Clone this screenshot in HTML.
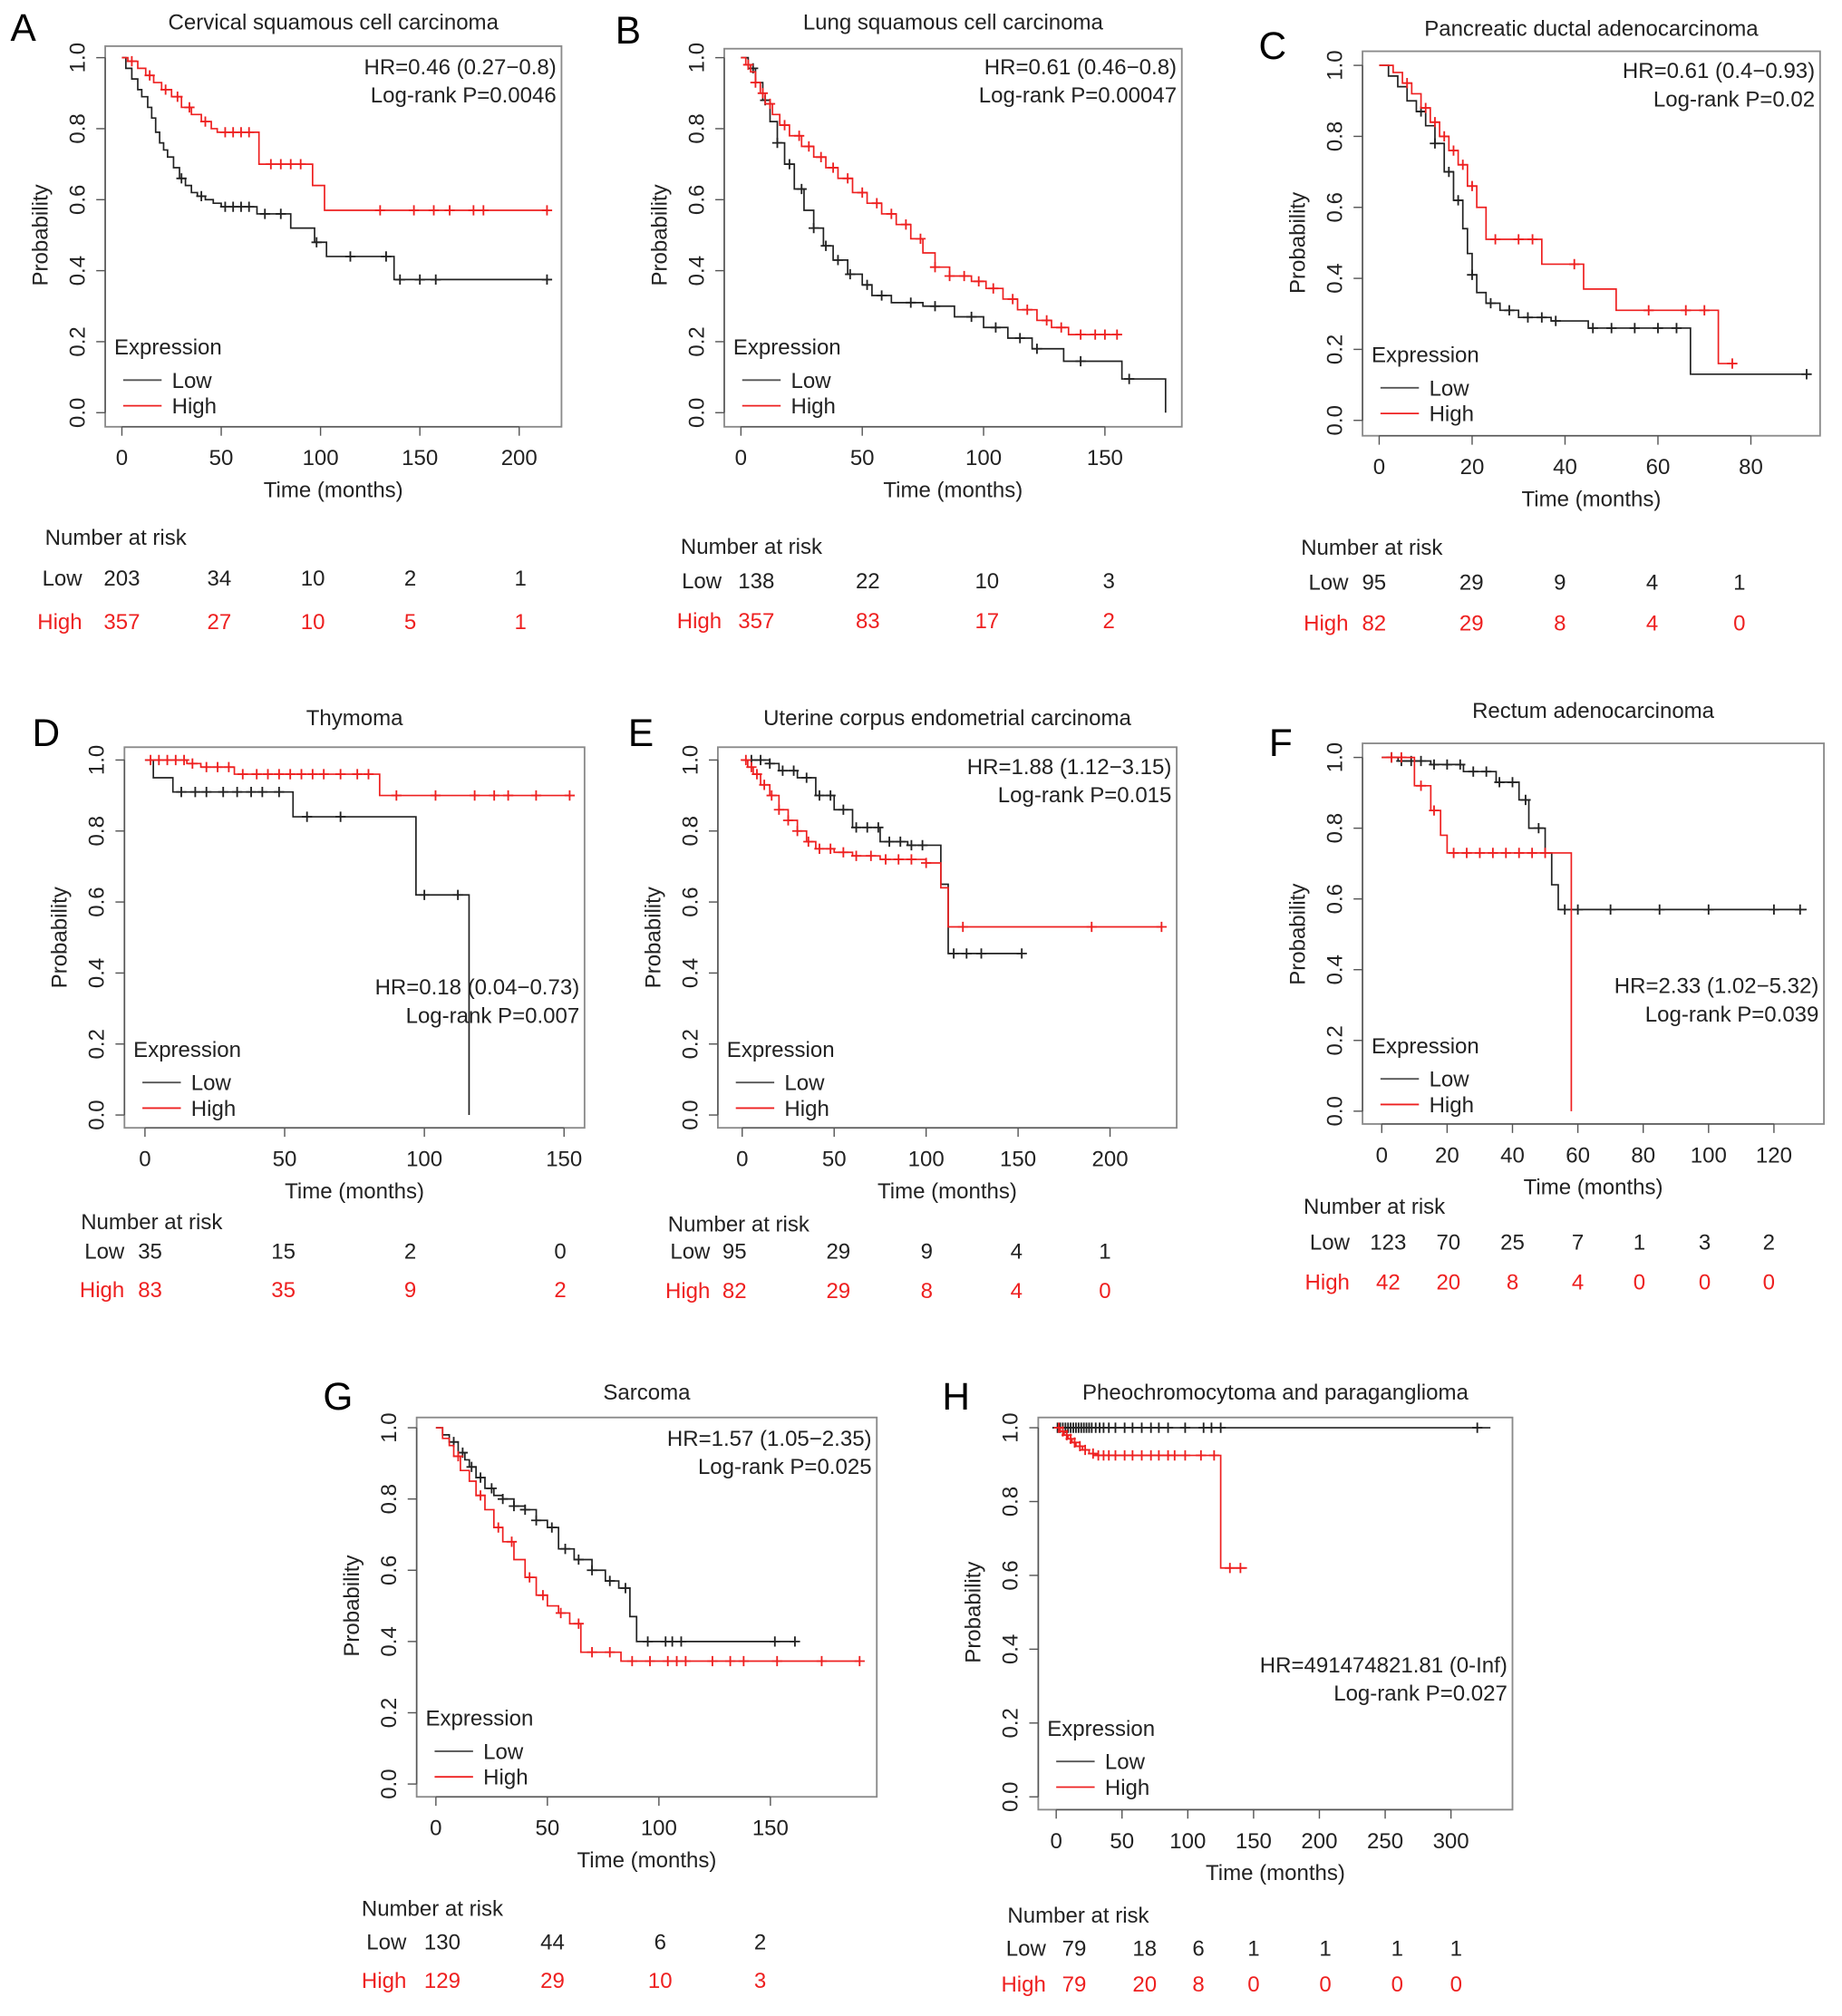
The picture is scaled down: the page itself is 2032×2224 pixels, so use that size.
<!DOCTYPE html>
<html><head><meta charset="utf-8"><style>
html,body{margin:0;padding:0;background:#fff;}
svg{display:block;font-family:"Liberation Sans",sans-serif;}
</style></head><body>
<svg id="fig" width="2032" height="2224" viewBox="0 0 1437 1573" xmlns="http://www.w3.org/2000/svg"></svg>
<script>
// ===== Data (months, survival probability) =====
const aLowT=[2,5,8,10,13,15,17,19,21,23,26,29,32,35,38,42,46,50,68,85,97,103,137];
const aLowS=[.97,.94,.91,.89,.86,.83,.79,.76,.74,.72,.69,.66,.64,.62,.61,.60,.59,.58,.56,.52,.48,.44,.375];
const aLowC=[30,40,52,56,60,64,72,80,98,115,133,140,150,158,214];
const aHighT=[3,8,12,16,20,25,30,35,40,45,48,69,96,102];
const aHighS=[.99,.97,.95,.93,.91,.89,.86,.84,.82,.80,.79,.70,.64,.57];
const aHighC=[5,14,22,28,34,42,52,56,60,64,75,80,85,90,130,147,157,165,177,182,214];
const aEnd=[214,214];

const bLowT=[3,6,9,12,15,18,22,26,30,34,38,44,50,54,62,75,88,100,110,120,133,157,175];
const bLowS=[.97,.93,.88,.82,.76,.70,.63,.57,.52,.47,.43,.39,.36,.33,.31,.30,.27,.24,.21,.18,.145,.095,0];
const bLowC=[5,10,15,20,25,30,35,40,45,52,58,70,80,95,105,115,122,140,160];
const bHighT=[2,4,6,8,10,13,16,20,25,30,35,40,46,52,58,64,70,75,80,86,95,101,108,114,122,128,135];
const bHighS=[.98,.96,.93,.90,.87,.84,.81,.78,.75,.72,.69,.66,.62,.59,.56,.53,.49,.45,.41,.385,.37,.35,.32,.29,.26,.24,.22];
const bHighC=[3,6,9,12,18,24,28,33,38,44,50,56,62,68,74,80,86,92,98,104,112,118,126,132,140,146,150,155];
const bEnd=[175,155];

const cLowT=[2,4,6,8,10,12,14,16,18,19,20,21,23,26,30,37,45,67];
const cLowS=[.97,.94,.90,.87,.83,.78,.70,.62,.54,.47,.41,.36,.33,.31,.29,.28,.26,.13];
const cLowC=[9,12,15,17,20,24,28,32,35,38,46,50,55,60,64,92];
const cHighT=[3,5,7,9,11,13,15,17,19,21,23,35,44,51,73];
const cHighS=[.98,.95,.92,.88,.84,.80,.76,.72,.66,.60,.51,.44,.37,.31,.16];
const cHighC=[6,10,12,14,16,18,20,25,30,33,42,58,66,70,76];
const cEnd=[92,76];

const dLowT=[3,10,53,97,116];
const dLowS=[.95,.91,.84,.62,0];
const dLowC=[13,18,22,28,33,38,42,48,58,70,100,112];
const dHighT=[15,20,32,84];
const dHighS=[.99,.98,.96,.90];
const dHighC=[2,5,8,11,14,17,22,26,30,35,40,44,48,52,56,60,64,70,76,80,90,104,118,125,130,140,152];
const dEnd=[116,152];

const eLowT=[15,20,30,40,50,60,75,90,108,112];
const eLowS=[.99,.97,.95,.90,.86,.81,.77,.76,.65,.455];
const eLowC=[5,10,15,22,28,35,42,48,55,62,68,74,80,86,92,98,115,122,130,152];
const eHighT=[3,6,10,15,20,25,30,35,40,50,60,75,100,108,112];
const eHighS=[.98,.96,.93,.90,.86,.83,.80,.77,.75,.74,.73,.72,.71,.64,.53];
const eHighC=[2,5,8,12,16,20,25,30,36,42,48,55,62,70,78,85,92,100,120,190,228];
const eEnd=[152,228];

const fLowT=[5,15,25,35,42,45,50,52,54];
const fLowS=[.99,.98,.96,.93,.88,.80,.73,.64,.57];
const fLowC=[3,6,9,12,16,20,24,28,32,36,40,44,48,56,60,70,85,100,120,128];
const fHighT=[10,15,18,20,58];
const fHighS=[.92,.85,.78,.73,0];
const fHighC=[3,6,12,16,22,26,30,34,38,42,46,50];
const fEnd=[130,58];

const gLowT=[3,6,10,13,15,18,22,26,30,35,40,45,50,55,62,70,76,82,87,90];
const gLowS=[.98,.96,.93,.91,.89,.86,.83,.81,.80,.78,.77,.74,.72,.66,.63,.60,.57,.55,.47,.40];
const gLowC=[8,12,16,20,25,30,35,40,45,52,58,64,70,78,85,95,103,106,110,152,161];
const gHighT=[3,6,8,11,15,18,22,26,30,35,40,45,50,55,60,65,83];
const gHighS=[.97,.95,.92,.88,.85,.81,.77,.72,.68,.63,.58,.53,.50,.48,.45,.37,.345];
const gHighC=[10,20,28,34,42,48,56,64,70,78,88,96,104,108,112,124,132,138,153,173,190];
const gEnd=[161,190];

const hLowT=[];
const hLowS=[];
const hLowC=[1,3,5,7,9,11,13,15,17,19,21,23,25,27,30,33,36,40,45,52,58,65,72,78,85,98,112,118,125,320];
const hHighT=[3,6,9,12,15,20,25,30,125];
const hHighS=[.99,.98,.97,.96,.95,.94,.93,.925,.62];
const hHighC=[2,5,8,11,14,18,22,28,32,36,40,45,52,58,65,72,78,85,90,98,110,120,132,140];
const hEnd=[330,145];

// risk tables
const aRiskLow=["203","34","10","2","1"], aRiskHigh=["357","27","10","5","1"];
const bRiskLow=["138","22","10","3"], bRiskHigh=["357","83","17","2"];
const cRiskLow=["95","29","9","4","1"], cRiskHigh=["82","29","8","4","0"];
const dRiskLow=["35","15","2","0"], dRiskHigh=["83","35","9","2"];
const eRiskLow=["95","29","9","4","1"], eRiskHigh=["82","29","8","4","0"];
const fRiskLow=["123","70","25","7","1","3","2"], fRiskHigh=["42","20","8","4","0","0","0"];
const gRiskLow=["130","44","6","2"], gRiskHigh=["129","29","10","3"];
const hRiskLow=["79","18","6","1","1","1","1"], hRiskHigh=["79","20","8","0","0","0","0"];

const xTicksA=[0,50,100,150,200], xTicksB=[0,50,100,150], xTicksC=[0,20,40,60,80];
const xTicksD=[0,50,100,150], xTicksE=[0,50,100,150,200], xTicksF=[0,20,40,60,80,100,120];
const xTicksG=[0,50,100,150], xTicksH=[0,50,100,150,200,250,300];
const yTicks=[0,0.2,0.4,0.6,0.8,1.0];

const panels=[
 {id:'a',L:'A',title:'Cervical squamous cell carcinoma',box:[82,36,438,333],x0:95,xmax:200,x1:405,y1:45,y0:322,xt:xTicksA,lowT:aLowT,lowS:aLowS,lowC:aLowC,highT:aHighT,highS:aHighS,highC:aHighC,end:aEnd,hr:'HR=0.46 (0.27\u22120.8)',p:'Log-rank P=0.0046',hrY:58,letter:[8,32],titleY:23,
  risk:{hx:35,hy:425,ly:457,hy2:491,lab:64,xs:[95,171,244,320,406],low:aRiskLow,high:aRiskHigh}},
 {id:'b',L:'B',title:'Lung squamous cell carcinoma',box:[565,38,922,333],x0:578,xmax:150,x1:862,y1:45,y0:322,xt:xTicksB,lowT:bLowT,lowS:bLowS,lowC:bLowC,highT:bHighT,highS:bHighS,highC:bHighC,end:bEnd,hr:'HR=0.61 (0.46\u22120.8)',p:'Log-rank P=0.00047',hrY:58,letter:[480,34],titleY:23,
  risk:{hx:531,hy:432,ly:459,hy2:490,lab:563,xs:[590,677,770,865],low:bRiskLow,high:bRiskHigh}},
 {id:'c',L:'C',title:'Pancreatic ductal adenocarcinoma',box:[1063,40,1420,340],x0:1076,xmax:80,x1:1366,y1:51,y0:328,xt:xTicksC,lowT:cLowT,lowS:cLowS,lowC:cLowC,highT:cHighT,highS:cHighS,highC:cHighC,end:cEnd,hr:'HR=0.61 (0.4\u22120.93)',p:'Log-rank P=0.02',hrY:61,letter:[982,46],titleY:28,
  risk:{hx:1015,hy:433,ly:460,hy2:492,lab:1052,xs:[1072,1148,1217,1289,1357],low:cRiskLow,high:cRiskHigh}},
 {id:'d',L:'D',title:'Thymoma',box:[97,583,456,880],x0:113,xmax:150,x1:440,y1:593,y0:870,xt:xTicksD,lowT:dLowT,lowS:dLowS,lowC:dLowC,highT:dHighT,highS:dHighS,highC:dHighC,end:dEnd,hr:'HR=0.18 (0.04\u22120.73)',p:'Log-rank P=0.007',hrY:776,letter:[25,582],titleY:566,
  risk:{hx:63,hy:959,ly:982,hy2:1012,lab:97,xs:[117,221,320,437],low:dRiskLow,high:dRiskHigh}},
 {id:'e',L:'E',title:'Uterine corpus endometrial carcinoma',box:[560,583,918,880],x0:579,xmax:200,x1:866,y1:593,y0:870,xt:xTicksE,lowT:eLowT,lowS:eLowS,lowC:eLowC,highT:eHighT,highS:eHighS,highC:eHighC,end:eEnd,hr:'HR=1.88 (1.12\u22123.15)',p:'Log-rank P=0.015',hrY:604,letter:[490,582],titleY:566,
  risk:{hx:521,hy:961,ly:982,hy2:1013,lab:554,xs:[573,654,723,793,862],low:eRiskLow,high:eRiskHigh}},
 {id:'f',L:'F',title:'Rectum adenocarcinoma',box:[1063,580,1423,877],x0:1078,xmax:120,x1:1384,y1:591,y0:867,xt:xTicksF,lowT:fLowT,lowS:fLowS,lowC:fLowC,highT:fHighT,highS:fHighS,highC:fHighC,end:fEnd,hr:'HR=2.33 (1.02\u22125.32)',p:'Log-rank P=0.039',hrY:775,letter:[990,590],titleY:560,
  risk:{hx:1017,hy:947,ly:975,hy2:1006,lab:1053,xs:[1083,1130,1180,1231,1279,1330,1380],low:fRiskLow,high:fRiskHigh}},
 {id:'g',L:'G',title:'Sarcoma',box:[325,1106,684,1402],x0:340,xmax:150,x1:601,y1:1114,y0:1392,xt:xTicksG,lowT:gLowT,lowS:gLowS,lowC:gLowC,highT:gHighT,highS:gHighS,highC:gHighC,end:gEnd,hr:'HR=1.57 (1.05\u22122.35)',p:'Log-rank P=0.025',hrY:1128,letter:[252,1100],titleY:1092,
  risk:{hx:282,hy:1495,ly:1521,hy2:1551,lab:317,xs:[345,431,515,593],low:gRiskLow,high:gRiskHigh}},
 {id:'h',L:'H',title:'Pheochromocytoma and paraganglioma',box:[810,1106,1180,1412],x0:824,xmax:300,x1:1132,y1:1114,y0:1402,xt:xTicksH,lowT:hLowT,lowS:hLowS,lowC:hLowC,highT:hHighT,highS:hHighS,highC:hHighC,end:hEnd,hr:'HR=491474821.81 (0-Inf)',p:'Log-rank P=0.027',hrY:1305,letter:[735,1100],titleY:1092,
  risk:{hx:786,hy:1500,ly:1526,hy2:1554,lab:816,xs:[838,893,935,978,1034,1090,1136],low:hRiskLow,high:hRiskHigh}}
];

const NS='http://www.w3.org/2000/svg';
const svg=document.getElementById('fig');
function mk(tag,attrs,parent,text){const e=document.createElementNS(NS,tag);for(const k in attrs)e.setAttribute(k,attrs[k]);if(text!==undefined)e.textContent=text;(parent||svg).appendChild(e);return e;}

function survAt(T,S,t){let s=1;for(let i=0;i<T.length;i++){if(T[i]<=t)s=S[i];else break;}return s;}

panels.forEach(P=>{
  const g=mk('g',{});
  
  
  const X=t=>P.x0+(t/P.xmax)*(P.x1-P.x0);
  const Y=s=>P.y0-(s)*(P.y0-P.y1);
  const [l,t,r,b]=P.box;
  const lt=mk('text',{x:P.letter[0],y:P.letter[1],'font-size':30},g,P.L);
  
  
  const ti=mk('text',{x:(l+r)/2,y:P.titleY,'font-size':17,'text-anchor':'middle',fill:'#222'},g,P.title);
  
  
  const bx=mk('rect',{x:l,y:t,width:r-l,height:b-t,fill:'none',stroke:'#8a8a8a','stroke-width':1.3},g);
  
  
  // x axis
  const xa=mk('g',{},g);
  
  
  mk('line',{x1:X(P.xt[0]),x2:X(P.xt[P.xt.length-1]),y1:b,y2:b,stroke:'#555','stroke-width':1},xa);
  P.xt.forEach(v=>{mk('line',{x1:X(v),x2:X(v),y1:b,y2:b+7,stroke:'#555'},xa);
    const tl=mk('text',{x:X(v),y:b+30,'font-size':17,'text-anchor':'middle',fill:'#222'},xa,String(v));
    
    });
  const xt=mk('text',{x:(l+r)/2,y:b+55,'font-size':17,'text-anchor':'middle',fill:'#222'},g,'Time (months)');
  
  
  // y axis
  const ya=mk('g',{},g);
  
  
  mk('line',{x1:l,x2:l,y1:Y(0),y2:Y(1),stroke:'#555'},ya);
  yTicks.forEach(v=>{mk('line',{x1:l-7,x2:l,y1:Y(v),y2:Y(v),stroke:'#555'},ya);
    const tx=l-16,ty=Y(v);
    const tl=mk('text',{x:tx,y:ty,'font-size':17,'text-anchor':'middle',fill:'#222',transform:`rotate(-90 ${tx} ${ty})`},ya,v.toFixed(1));
    
    });
  const yx=l-45,yy=(Y(0)+Y(1))/2;
  const ytl=mk('text',{x:yx,y:yy,'font-size':17,'text-anchor':'middle',fill:'#222',transform:`rotate(-90 ${yx} ${yy})`},g,'Probability');
  
  
  // curves
  [['low','#222',P.lowT,P.lowS,P.lowC,P.end[0]],['high','#ee2020',P.highT,P.highS,P.highC,P.end[1]]].forEach(([nm,col,T,S,C,end])=>{
    let d=`M${X(0)},${Y(1)}`;let s=1;
    for(let i=0;i<T.length;i++){d+=` H${X(T[i])} V${Y(S[i])}`;s=S[i];}
    d+=` H${X(end)}`;
    const pth=mk('path',{d:d,fill:'none',stroke:col,'stroke-width':1.2},g);
    
    
    C.forEach(c=>{const cx=X(c),cy=Y(survAt(T,S,c));
      const m=mk('path',{d:`M${cx-4},${cy}H${cx+4}M${cx},${cy-4}V${cy+4}`,stroke:col,'stroke-width':1.3},g);
      
      });
  });
  // HR
  const h1=mk('text',{x:r-4,y:P.hrY,'font-size':17,'text-anchor':'end',fill:'#222'},g,P.hr);
  
  
  const h2=mk('text',{x:r-4,y:P.hrY+22,'font-size':17,'text-anchor':'end',fill:'#222'},g,P.p);
  
  
  // legend
  const lg=mk('g',{},g);
  
  
  const ly=Y(0.2);
  mk('text',{x:l+7,y:ly+10,'font-size':17,fill:'#222'},lg,'Expression');
  mk('line',{x1:l+14,x2:l+44,y1:ly+30,y2:ly+30,stroke:'#555','stroke-width':1.3},lg);
  mk('text',{x:l+52,y:ly+36,'font-size':17,fill:'#222'},lg,'Low');
  mk('line',{x1:l+14,x2:l+44,y1:ly+50,y2:ly+50,stroke:'#ee2020','stroke-width':1.3},lg);
  mk('text',{x:l+52,y:ly+56,'font-size':17,fill:'#222'},lg,'High');
  // risk table
  const R=P.risk;
  const rt=mk('g',{},g);
  
  
  mk('text',{x:R.hx,y:R.hy,'font-size':17,fill:'#222'},rt,'Number at risk');
  mk('text',{x:R.lab,y:R.ly,'font-size':17,'text-anchor':'end',fill:'#222'},rt,'Low');
  mk('text',{x:R.lab,y:R.hy2,'font-size':17,'text-anchor':'end',fill:'#ee2020'},rt,'High');
  R.xs.forEach((x,i)=>{
    mk('text',{x:x,y:R.ly,'font-size':17,'text-anchor':'middle',fill:'#222'},rt,R.low[i]);
    mk('text',{x:x,y:R.hy2,'font-size':17,'text-anchor':'middle',fill:'#ee2020'},rt,R.high[i]);
  });
});
</script>
</body></html>
